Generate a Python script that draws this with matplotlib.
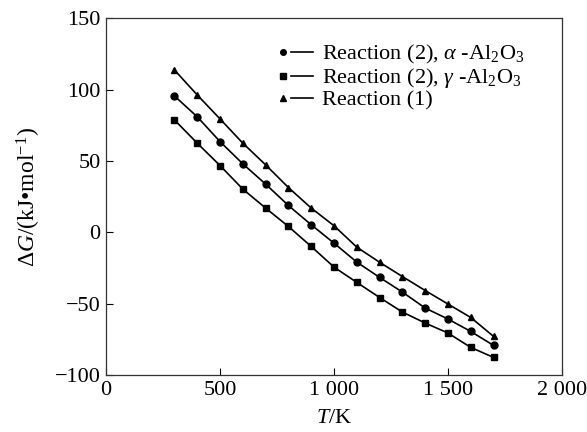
import numpy as np
import matplotlib
matplotlib.use("Agg")
import matplotlib.pyplot as plt
from matplotlib.legend_handler import HandlerLine2DCompound

plt.rcParams['font.family'] = 'Liberation Serif'
plt.rcParams['mathtext.fontset'] = 'custom'
plt.rcParams['mathtext.rm'] = 'Liberation Serif'
plt.rcParams['mathtext.it'] = 'Liberation Serif:italic'

# temperatures (K) and Gibbs energy change (kJ/mol)
T = [300, 400, 500, 600, 700, 800, 900, 1000, 1100, 1200, 1300, 1400, 1500, 1600, 1700]
dG_alpha = [95.6, 81, 63.6, 48, 33.8, 18.8, 5.3, -7.6, -20.9, -31.6, -41.9, -53.1, -60.8, -69.5, -79.3]
dG_gamma = [78.8, 62.5, 46.8, 30.3, 17, 4.1, -9.9, -24.4, -35.1, -45.7, -55.9, -63.6, -70.6, -80.7, -87.7]
dG_r1 = [113.8, 96.3, 79.5, 62.5, 47.3, 31.4, 17, 4.6, -10.4, -21, -31, -40.8, -50.3, -59.7, -73]

labels = [r'Reaction (2), $\alpha$ -Al$_2$O$_3$',
          r'Reaction (2), $\gamma$ -Al$_2$O$_3$',
          'Reaction (1)']
xticks = [0, 500, 1000, 1500, 2000]
xticklabels = ['0', '500', '1 000', '1 500', '2 000']


# legend handler: marker on the left, short line to its right
class MarkerLeft(HandlerLine2DCompound):
    def get_xdata(self, legend, xdescent, ydescent, width, height, fontsize):
        xdata = np.array([-xdescent + 0.3 * width, -xdescent + width])
        xmarker = np.array([-xdescent + 0.05 * width])
        return xdata, xmarker


fig = plt.figure(figsize=(5.87, 4.32), dpi=100)
ax = fig.add_axes([0.1806, 0.132, 0.7768, 0.8256])

h1, = ax.plot(T, dG_alpha, color='black', lw=1.2, marker='o', ms=5)
h2, = ax.plot(T, dG_gamma, color='black', lw=1.2, marker='s', ms=5)
h3, = ax.plot(T, dG_r1, color='black', lw=1.2, marker='^', ms=5)

ax.set_xlim(0, 2000)
ax.set_ylim(-100, 150)
ax.set_xticks(xticks)
ax.set_xticklabels(xticklabels)
ax.set_yticks([-100, -50, 0, 50, 100, 150])
ax.set_yticklabels(['\u2212100', '\u221250', '0', '50', '100', '150'])
ax.tick_params(direction='in', length=5, width=0.8, labelsize=16, pad=4)
for s in ax.spines.values():
    s.set_linewidth(0.9)
    s.set_color('#333333')

ax.set_xlabel('$T$/K', fontsize=16, labelpad=7)
ax.set_ylabel('$\\Delta G$/(kJ\u2022mol$^{-1}$)', fontsize=17, labelpad=8)

hm = MarkerLeft()
leg = ax.legend([h1, h2, h3], labels, handler_map={h1: hm, h2: hm, h3: hm},
                loc='upper left', bbox_to_anchor=(0.385, 0.93), frameon=False,
                fontsize=16, handlelength=1.4, handletextpad=0.4, labelspacing=0.0,
                borderpad=0, borderaxespad=0, numpoints=1, markerscale=0.8)

plt.savefig('out.png', dpi=100)
